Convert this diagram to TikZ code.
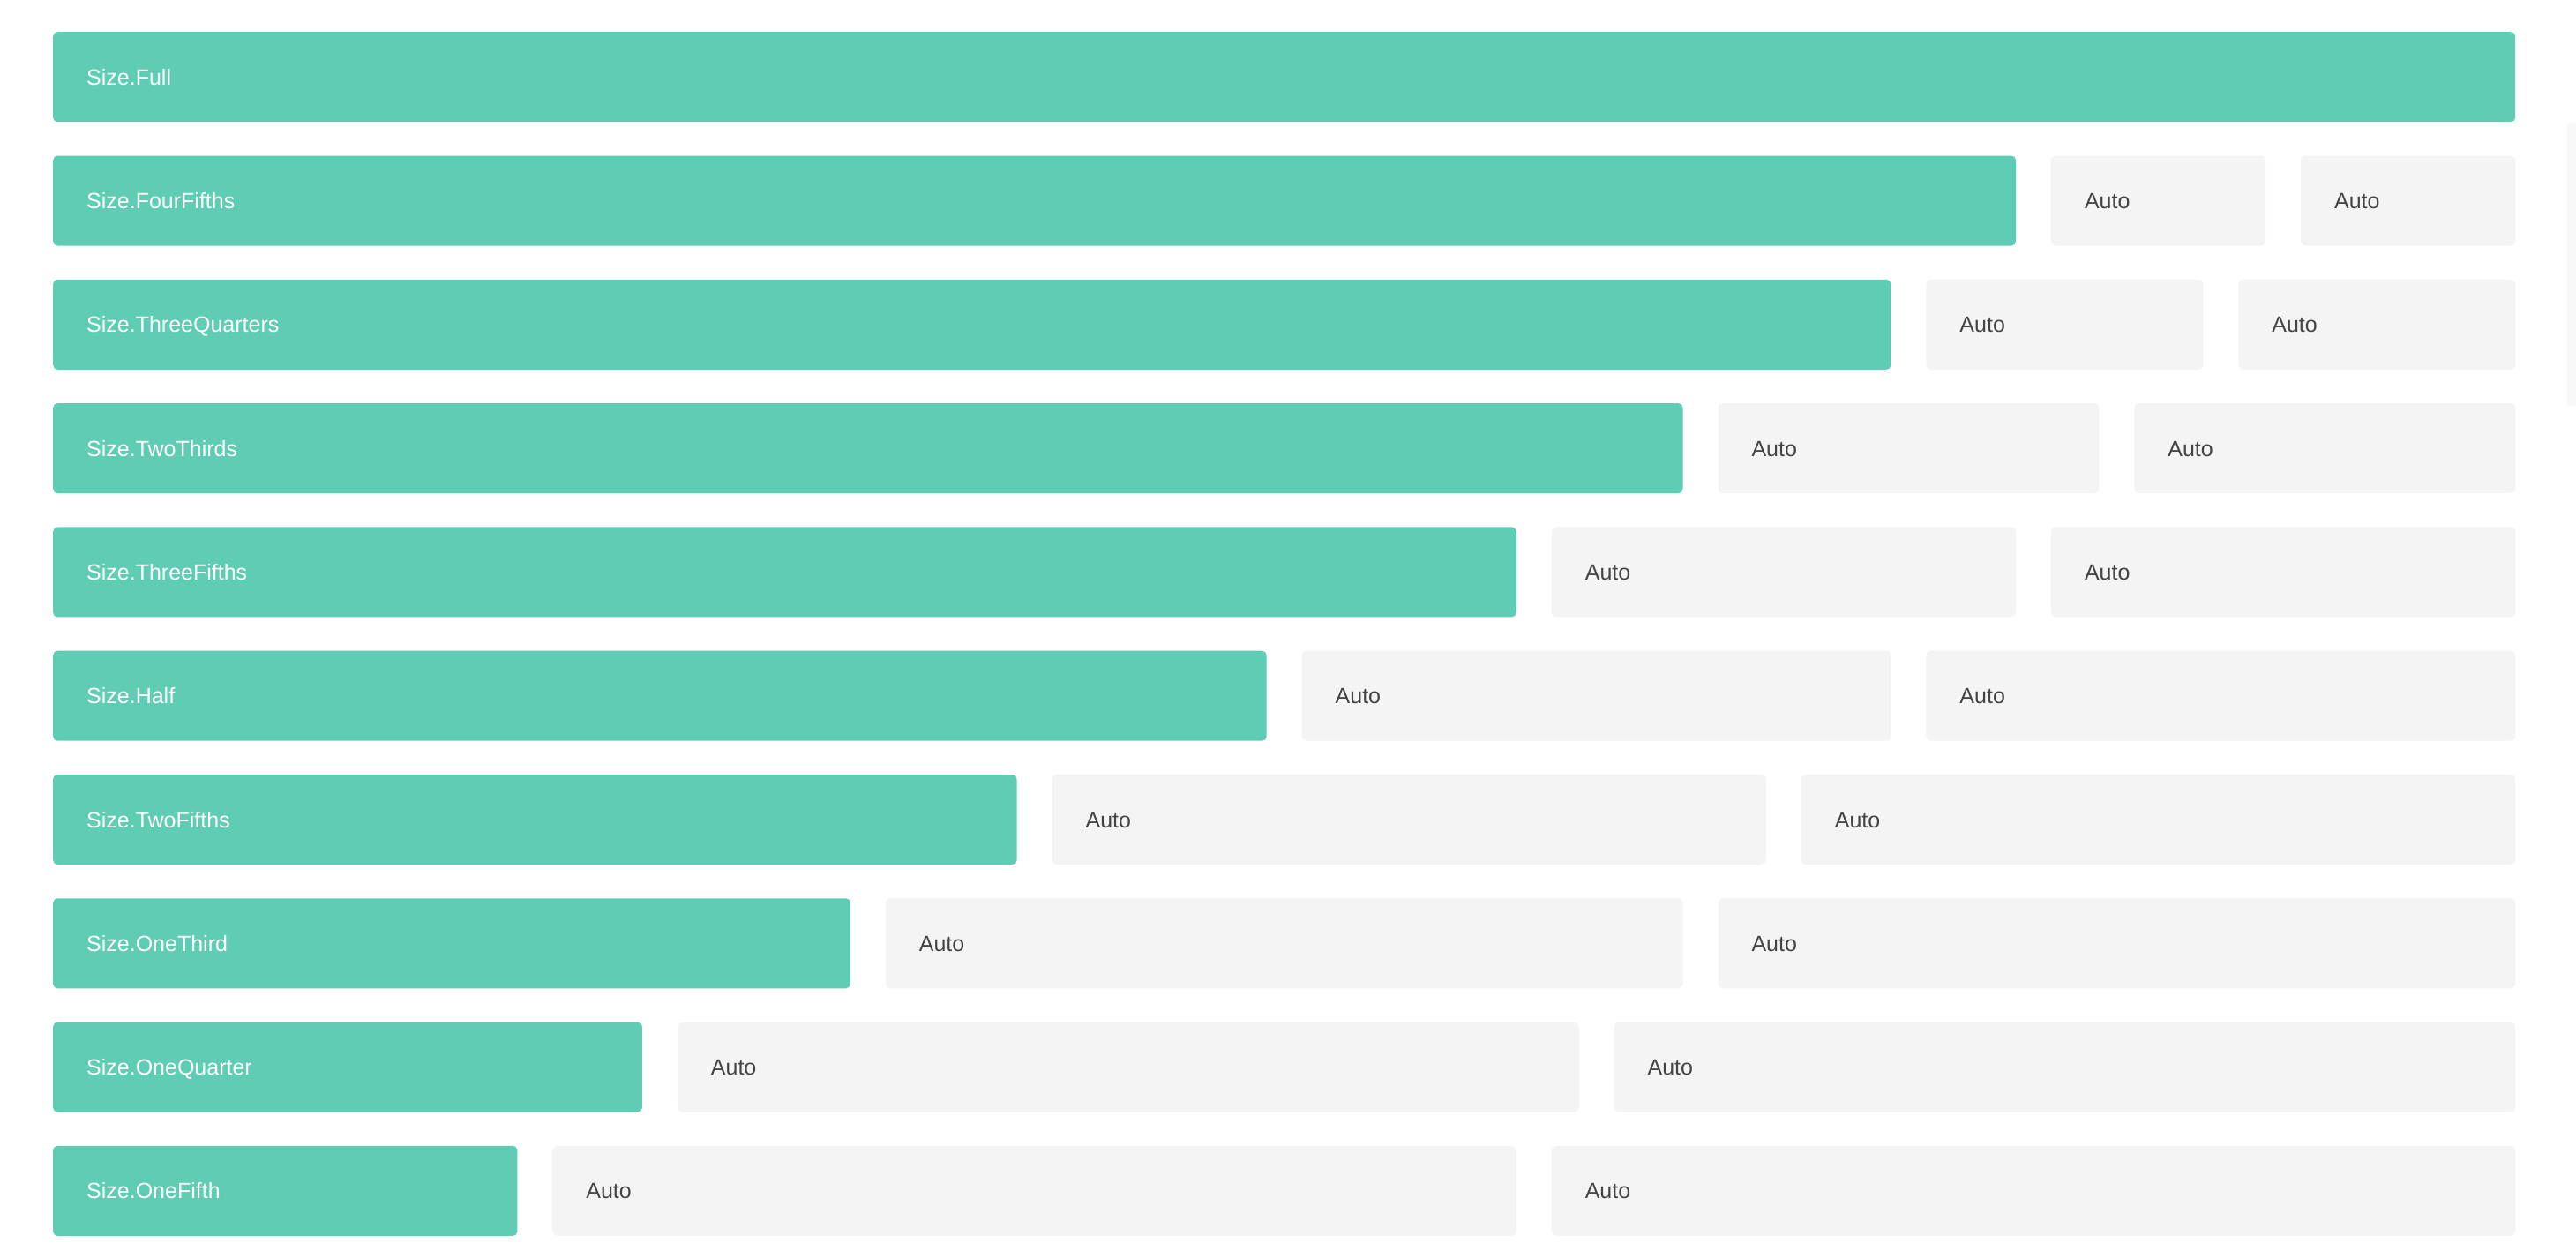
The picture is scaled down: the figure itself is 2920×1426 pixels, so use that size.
\documentclass[tikz,border=0pt]{standalone}
\usepackage{fontspec}
\setmainfont{Liberation Sans}
\definecolor{teal}{HTML}{5FCDB4}
\definecolor{autobg}{HTML}{F4F4F4}
\definecolor{autotxt}{HTML}{444444}
\definecolor{scroll}{HTML}{F8F8F8}
\begin{document}
\begin{tikzpicture}[x=1pt,y=-1pt,
  cell/.style={anchor=north west, rounded corners=5pt, minimum height=102pt,
    inner xsep=38pt, inner ysep=0pt, align=left, text height=18pt, text depth=0pt,
    font=\fontsize{25pt}{30pt}\selectfont},
  gbox/.style={cell, fill=teal, text=white},
  abox/.style={cell, fill=autobg, text=autotxt}]
\useasboundingbox[fill=white] (0,0) rectangle (2920,1426);
\fill[scroll, rounded corners=4pt] (2910,139) rectangle (2922,460);
\foreach \i/\f/\lab in {1/1/Full,2/0.8/FourFifths,3/0.75/ThreeQuarters,4/0.6666667/TwoThirds,
  5/0.6/ThreeFifths,6/0.5/Half,7/0.4/TwoFifths,8/0.3333333/OneThird,9/0.25/OneQuarter,10/0.2/OneFifth}{
  \pgfmathsetmacro\G{\f*2831-40}
  \pgfmathsetmacro\A{(2751-\f*2831)/2}
  \pgfmathsetmacro\y{36+140.3*(\i-1)}
  \pgfmathsetmacro\xa{60+\G+40}
  \pgfmathsetmacro\xb{\xa+\A+40}
  \node[gbox, text width={(\G-76)*1pt}] (g\i) at (60,\y) {Size.\lab};
  \ifnum\i>1
    \node[abox, text width={(\A-76)*1pt}] (a\i) at (\xa,\y) {Auto};
    \node[abox, text width={(\A-76)*1pt}] (b\i) at (\xb,\y) {Auto};
  \fi
}
\end{tikzpicture}
\end{document}
